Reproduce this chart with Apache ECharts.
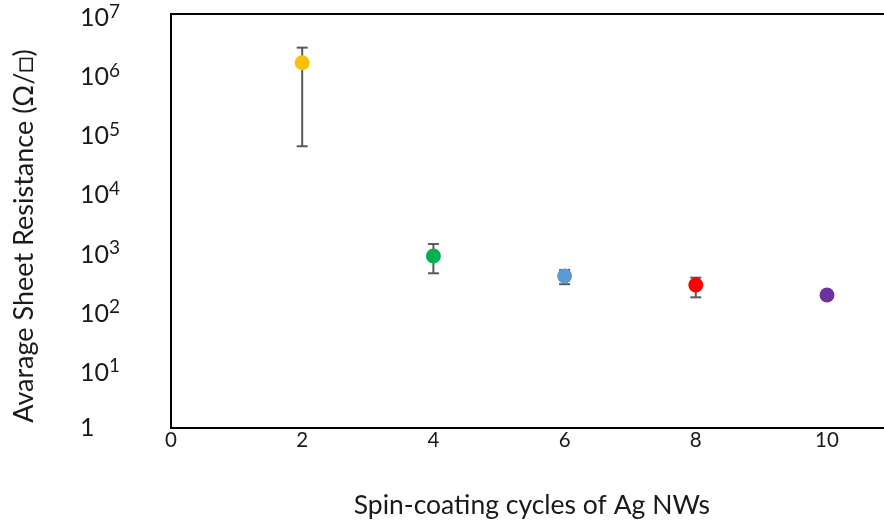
<!DOCTYPE html>
<html>
<head>
<meta charset="utf-8">
<script src="https://cdn.jsdelivr.net/npm/echarts@6/dist/echarts.min.js"></script>
<style>html,body{margin:0;padding:0;background:#fff}#c{width:884px;height:521px}</style>
</head>
<body>
<div id="c"></div>
<script>
const cycles = [2, 4, 6, 8, 10];
const resistance = [1.5e6, 810, 372, 262, 177];
const errLow = [5.8e4, 413, 270, 162, null];
const errHigh = [2.7e6, 1290, 470, 348, null];
const colors = ['#FFC000', '#00B050', '#5B9BD5', '#FF0000', '#7030A0'];
const xTicks = [0, 2, 4, 6, 8, 10];
const yTickExps = [0, 1, 2, 3, 4, 5, 6, 7];

const FONT = 'Lato';
const TXT = '#1a1a1a';
const chart = echarts.init(document.getElementById('c'), null, {renderer: 'canvas'});

const points = cycles.map((c, i) => ({value: [c, resistance[i]], itemStyle: {color: colors[i], opacity: 1}}));
const errData = cycles.map((c, i) => [c, errLow[i], errHigh[i]]).filter(d => d[1] != null);

chart.setOption({
  animation: false,
  grid: {left: 171, top: 14, width: 721.6, height: 414, show: true, borderColor: '#000', borderWidth: 2,
    backgroundColor: 'transparent', outerBoundsMode: 'none', containLabel: false},
  xAxis: {
    type: 'value', min: 0, max: 11, interval: 2,
    name: 'Spin-coating cycles of Ag NWs', nameLocation: 'middle', nameGap: 64,
    nameTextStyle: {fontFamily: FONT, fontSize: 26.5, color: TXT},
    axisLine: {show: false}, axisTick: {show: false}, splitLine: {show: false},
    axisLabel: {fontFamily: FONT, fontSize: 20.5, color: TXT, margin: 2, showMaxLabel: false,
      formatter: v => xTicks.includes(v) ? String(v) : ''}
  },
  yAxis: {
    type: 'log', logBase: 10, min: 1, max: 1e7,
    name: 'Avarage Sheet Resistance (Ω/□)', nameLocation: 'middle', nameGap: 133,
    nameTextStyle: {fontFamily: FONT, fontSize: 27, color: TXT, padding: [0, 30, 0, 0]},
    axisLine: {show: false}, axisTick: {show: false}, splitLine: {show: false}, minorTick: {show: false},
    axisLabel: {
      fontFamily: FONT, fontSize: 25, color: TXT, align: 'left', margin: 91,
      formatter: v => {
        const e = Math.round(Math.log10(v));
        if (!yTickExps.includes(e)) return '';
        return e === 0 ? '1' : '{b|10}{sup|' + e + '}';
      },
      rich: {
        b: {fontFamily: FONT, fontSize: 25, lineHeight: 33, color: TXT, verticalAlign: 'bottom'},
        sup: {fontFamily: FONT, fontSize: 19, lineHeight: 19, color: TXT, padding: [0, 0, 9.5, 0], verticalAlign: 'bottom'}
      }
    }
  },
  series: [
    {
      type: 'custom',
      data: errData,
      renderItem: (params, api) => {
        const x = api.value(0);
        const lo = api.coord([x, api.value(1)]);
        const hi = api.coord([x, api.value(2)]);
        const hw = 5.5;
        const st = {stroke: '#595959', lineWidth: 2};
        return {type: 'group', children: [
          {type: 'line', shape: {x1: lo[0], y1: lo[1], x2: hi[0], y2: hi[1]}, style: st},
          {type: 'line', shape: {x1: lo[0] - hw, y1: lo[1], x2: lo[0] + hw, y2: lo[1]}, style: st},
          {type: 'line', shape: {x1: hi[0] - hw, y1: hi[1], x2: hi[0] + hw, y2: hi[1]}, style: st}
        ]};
      },
      z: 1
    },
    {
      type: 'scatter', data: points, symbol: 'circle', symbolSize: 15, z: 2
    }
  ]
});
</script>
</body>
</html>
